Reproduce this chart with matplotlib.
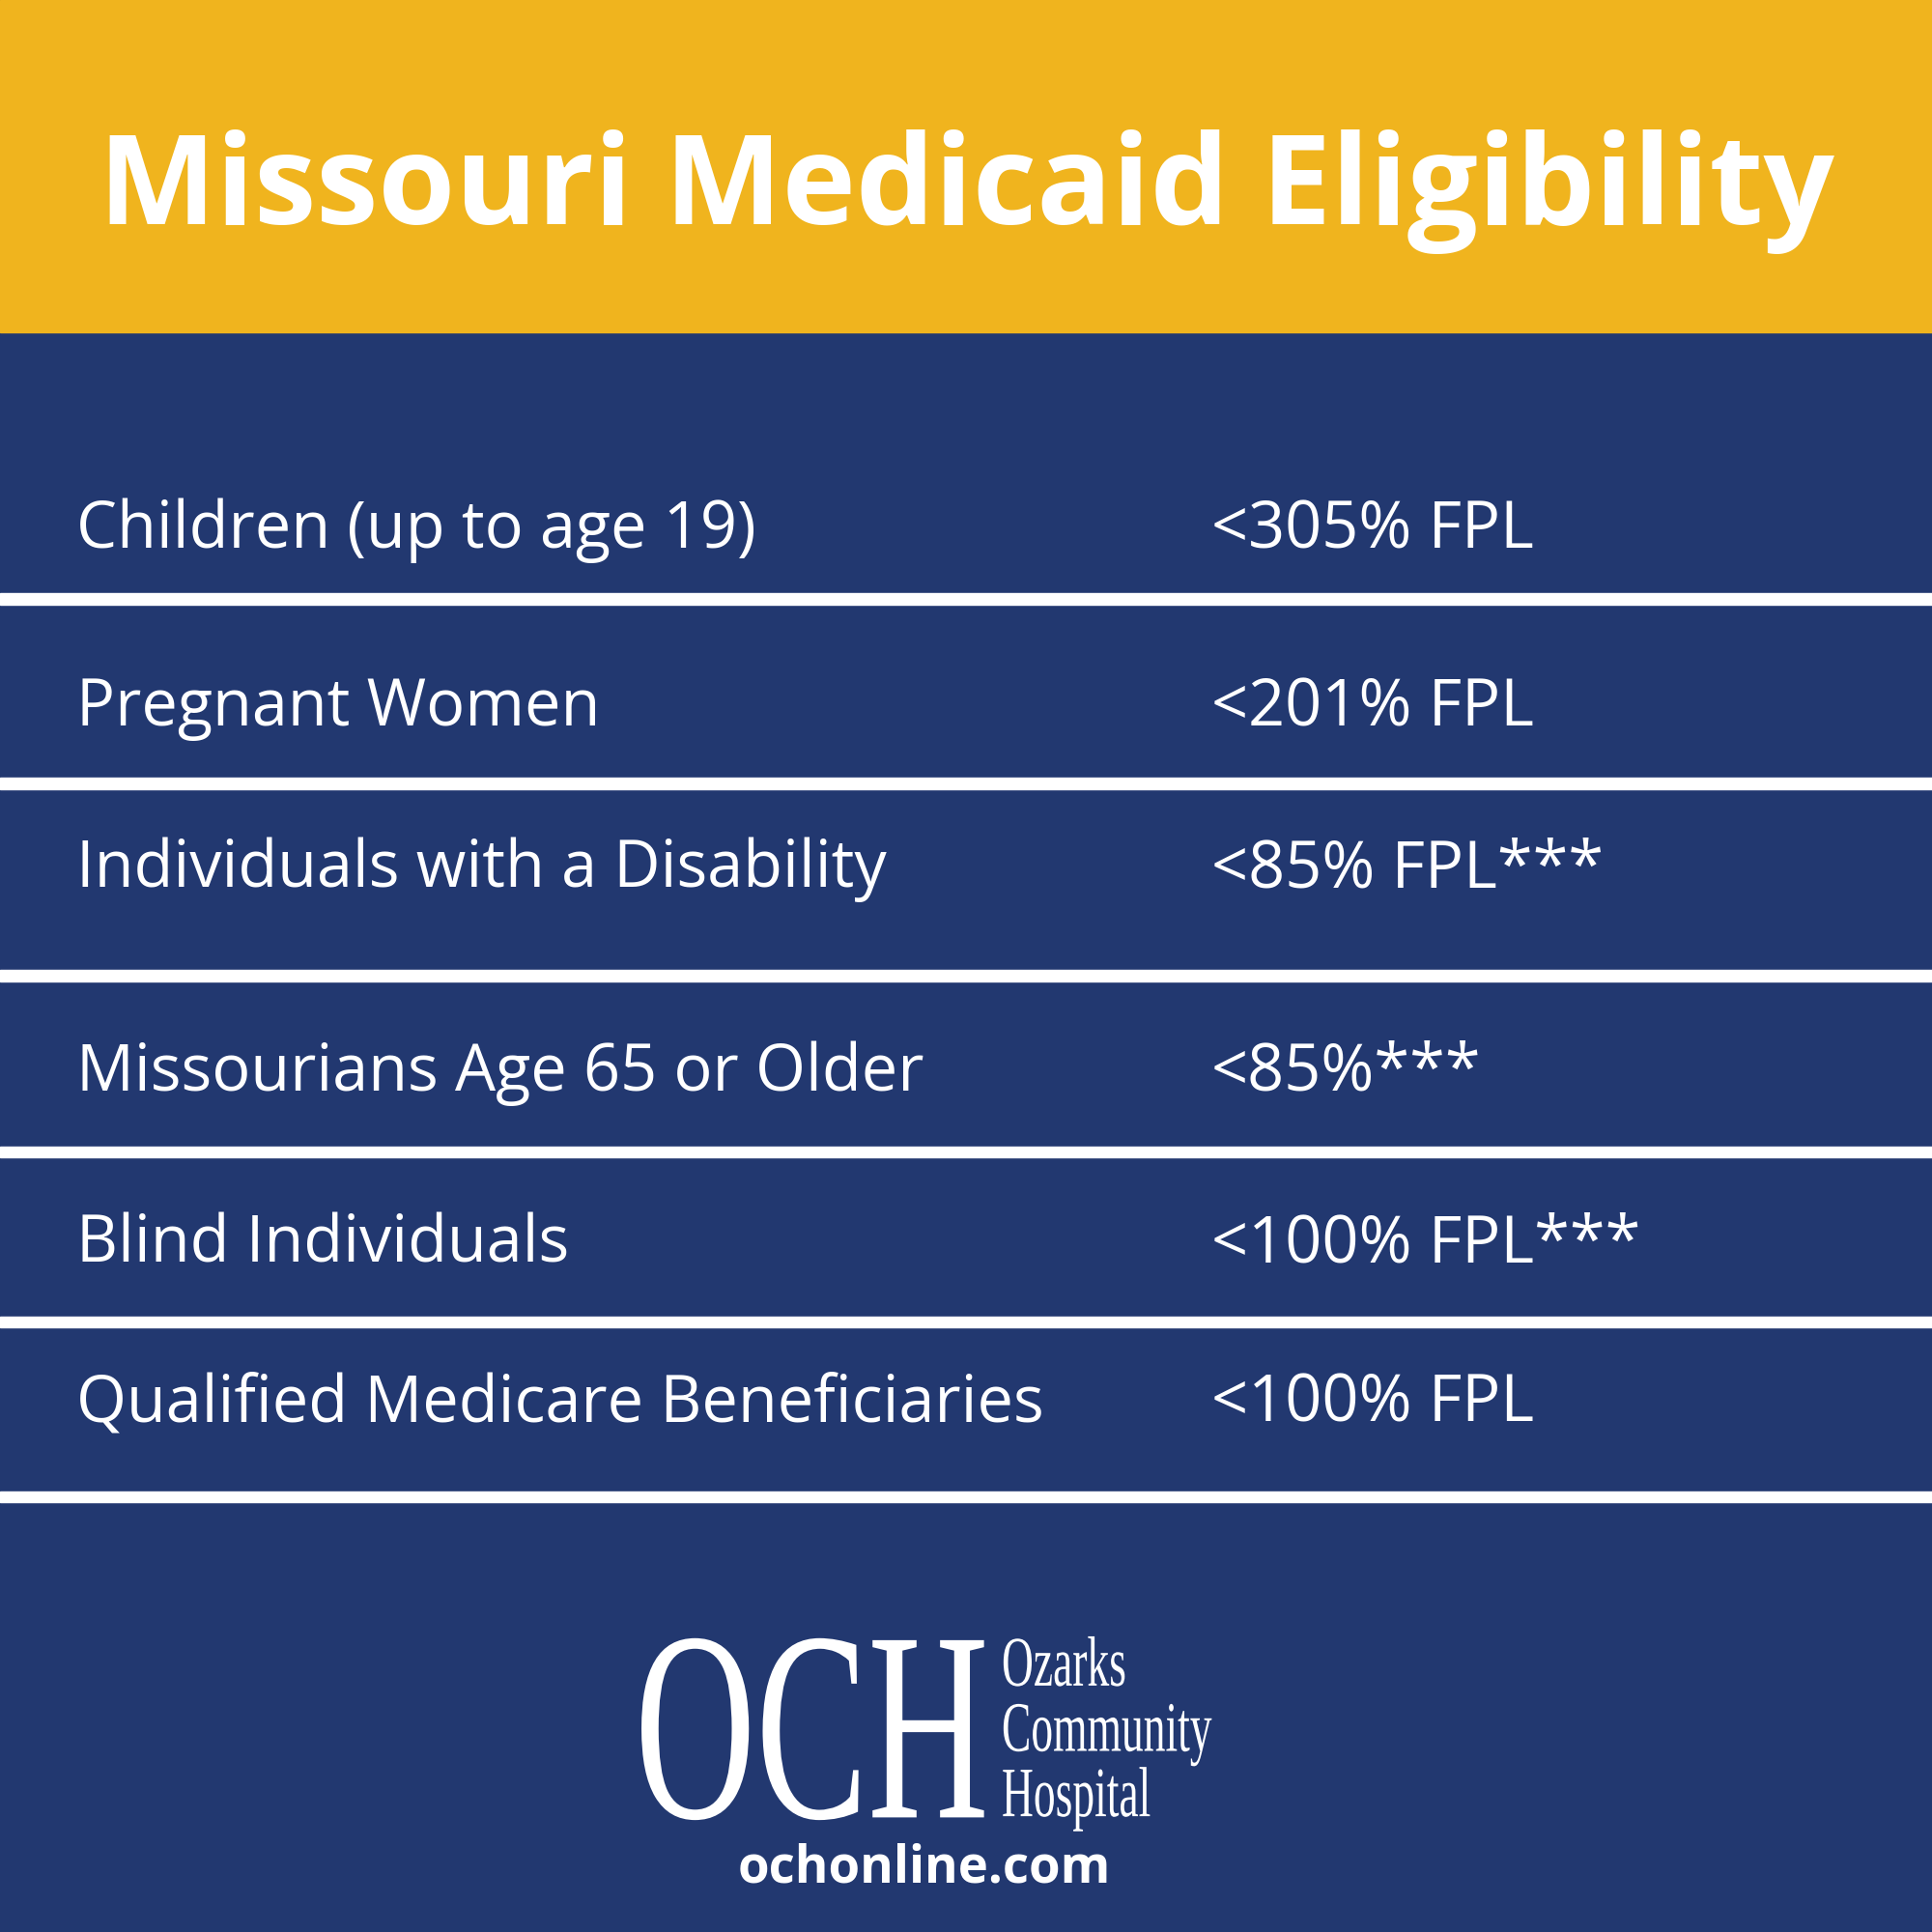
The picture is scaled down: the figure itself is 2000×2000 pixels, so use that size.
import matplotlib.pyplot as plt
from matplotlib.patches import Rectangle, PathPatch
from matplotlib.textpath import TextPath
from matplotlib.font_manager import FontProperties
from matplotlib.transforms import Affine2D

NAVY = "#223870"
GOLD = "#F0B41E"

title = "Missouri Medicaid Eligibility"
groups = [
    "Children (up to age 19)",
    "Pregnant Women",
    "Individuals with a Disability",
    "Missourians Age 65 or Older",
    "Blind Individuals",
    "Qualified Medicare Beneficiaries",
]
limits = [
    "<305% FPL",
    "<201% FPL",
    "<85% FPL***",
    "<85%***",
    "<100% FPL***",
    "<100% FPL",
]

# layout in 1568-px reference units (y from top)
S = 1568.0
row_y = [431, 575, 706, 871, 1010, 1140]
line_y = [486, 636, 792, 935, 1073, 1215]

fig = plt.figure(figsize=(20, 20), dpi=100)
ax = fig.add_axes([0, 0, 1, 1])
ax.set_xlim(0, S)
ax.set_ylim(S, 0)
ax.axis("off")

ax.add_patch(Rectangle((0, 0), S, S, color=NAVY))
ax.add_patch(Rectangle((0, 0), S, 270, color=GOLD))

ax.text(S / 2, 156, title, ha="center", va="center", color="white",
        fontsize=93, fontweight="bold", family="Open Sans")

for y in line_y:
    ax.add_patch(Rectangle((0, y - 4.5), S, 9, color="white"))

for y, g, l in zip(row_y, groups, limits):
    ax.text(62, y, g, ha="left", va="center", color="white",
            fontsize=48, family="Open Sans")
    ax.text(983, y, l, ha="left", va="center", color="white",
            fontsize=48, family="Open Sans")


def condensed(s, x, base, cap_h, sx, serif=True):
    fp = FontProperties(family="Liberation Serif" if serif else "Open Sans")
    tp = TextPath((0, 0), s, size=100, prop=fp)
    k = cap_h / 66.0  # approx cap height of size-100 Liberation Serif
    tr = Affine2D().scale(k * sx, -k).translate(x, base)
    ax.add_patch(PathPatch(tr.transform_path(tp), color="white", lw=0))


# logo
condensed("OCH", 515, 1475, 145, 0.62)
condensed("Ozarks", 813, 1368, 38, 0.62)
condensed("Community", 813, 1421, 38, 0.62)
condensed("Hospital", 813, 1474, 38, 0.62)
ax.text(750, 1517, "ochonline.com", ha="center", va="center", color="white",
        fontsize=38, fontweight="bold", family="Open Sans")

fig.savefig("out.png")
